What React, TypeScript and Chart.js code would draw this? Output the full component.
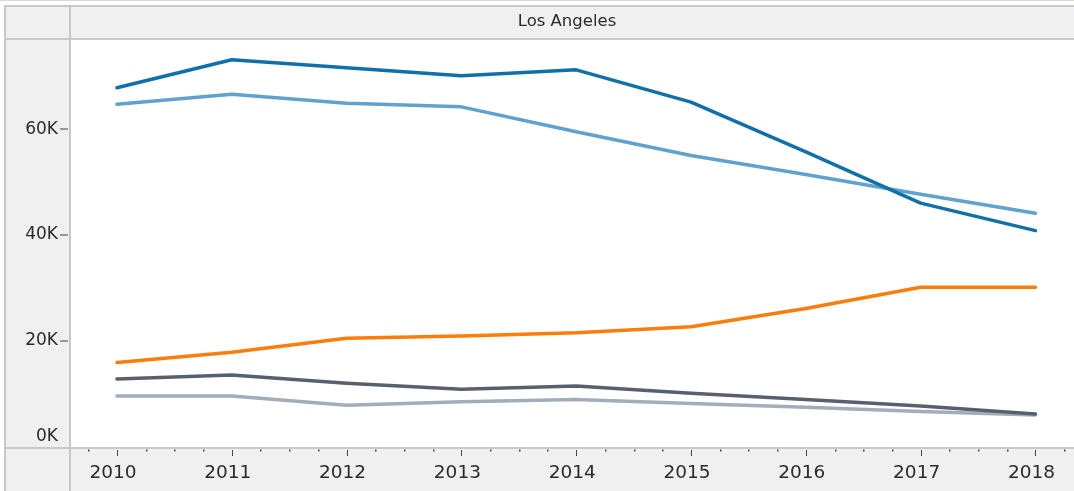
import React, { useEffect, useRef } from 'react';
import { Chart, registerables } from 'chart.js';

Chart.register(...registerables);

const panelTitle = 'Los Angeles';
const years = [2010, 2011, 2012, 2013, 2014, 2015, 2016, 2017, 2018];
const yTickValues = [0, 20000, 40000, 60000];

const seriesDarkBlue = [67800, 73100, 71600, 70100, 71200, 65100, 55700, 46000, 40800];
const seriesLightBlue = [64700, 66600, 64900, 64200, 59500, 55000, 51400, 47700, 44100];
const seriesOrange = [15900, 17800, 20450, 20900, 21500, 22650, 26100, 30100, 30100];
const seriesDarkGray = [12750, 13500, 11950, 10800, 11450, 10050, 8900, 7650, 6150];
const seriesLightGray = [9550, 9550, 7800, 8450, 8900, 8150, 7400, 6600, 5950];

const FONT = '"DejaVu Sans", Verdana, sans-serif';

const toPoints = (vals: number[]) => years.map((y, i) => ({ x: y, y: vals[i] }));

const framePlugin = {
  id: 'tableauFrame',
  beforeDraw(chart: any) {
    const { ctx, width, height, chartArea: ca } = chart;
    ctx.save();
    ctx.fillStyle = '#ffffff';
    ctx.fillRect(0, 0, width, height);
    ctx.fillStyle = '#dcd8d0';
    ctx.fillRect(0, 0, width, 1);
    const band = '#f0f0f0';
    const line = '#c8c8c8';
    ctx.fillStyle = band;
    ctx.fillRect(5, 6, width - 5, ca.top - 6);
    ctx.fillRect(5, ca.top, ca.left - 5, height - ca.top);
    ctx.fillRect(5, ca.bottom, width - 5, height - ca.bottom);
    ctx.fillStyle = line;
    ctx.fillRect(4, 5, width - 4, 2);
    ctx.fillRect(4, ca.top - 2, width - 4, 2);
    ctx.fillRect(4, 5, 2, height - 5);
    ctx.fillRect(ca.left - 2, 5, 2, height - 5);
    ctx.fillRect(4, ca.bottom, width - 4, 2);
    ctx.restore();
  },
  afterDraw(chart: any) {
    const { ctx, chartArea: ca } = chart;
    const xs = chart.scales.x;
    const ys = chart.scales.y;
    ctx.save();
    // panel header
    ctx.fillStyle = '#2a2a2a';
    ctx.font = `16.5px ${FONT}`;
    ctx.textAlign = 'center';
    ctx.textBaseline = 'middle';
    ctx.fillText(panelTitle, 567, 22);
    // y axis labels + ticks
    ctx.font = `17px ${FONT}`;
    ctx.textAlign = 'right';
    yTickValues.forEach((v) => {
      let y = ys.getPixelForValue(v);
      let clamped = false;
      if (y + 9 > ca.bottom) {
        y = ca.bottom - 10.5;
        clamped = true;
      }
      ctx.fillStyle = '#2a2a2a';
      ctx.fillText(`${v / 1000}K`, 58, y);
      if (!clamped) {
        ctx.fillStyle = '#444444';
        ctx.fillRect(60, Math.round(y) - 0.5, 8, 1);
      }
    });
    // x axis tick marks
    ctx.fillStyle = '#444444';
    const first = Math.ceil(xs.min * 4) / 4;
    for (let q = first; q <= xs.max + 1e-9; q += 0.25) {
      const x = Math.round(xs.getPixelForValue(q));
      if (Math.abs(q - Math.round(q)) < 1e-6) {
        ctx.fillRect(x, ca.bottom + 3, 1, 6);
      } else {
        ctx.fillRect(x, ca.bottom + 2.5, 1.5, 2);
      }
    }
    ctx.restore();
  },
};

export default function App() {
  const canvasRef = useRef<HTMLCanvasElement | null>(null);

  useEffect(() => {
    document.body.style.margin = '0';
    const canvas = canvasRef.current;
    if (!canvas) return;
    const mk = (label: string, vals: number[], color: string, order: number) => ({
      label,
      data: toPoints(vals),
      borderColor: color,
      backgroundColor: color,
      borderWidth: 3.5,
      pointRadius: 0,
      pointHoverRadius: 0,
      tension: 0,
      borderCapStyle: 'round' as const,
      borderJoinStyle: 'round' as const,
      fill: false,
      order,
    });
    const chart = new Chart(canvas, {
      type: 'line',
      data: {
        datasets: [
          mk('Series A', seriesDarkBlue, '#1170aa', 0),
          mk('Series B', seriesLightBlue, '#5fa2ce', 1),
          mk('Series C', seriesOrange, '#fc7d0b', 2),
          mk('Series D', seriesDarkGray, '#57606c', 3),
          mk('Series E', seriesLightGray, '#a3acb9', 4),
        ],
      },
      options: {
        responsive: false,
        animation: false,
        layout: { padding: { top: 40, left: 0, right: 0, bottom: 0 } },
        plugins: {
          legend: { display: false },
          title: { display: false },
          tooltip: { enabled: false },
        },
        scales: {
          x: {
            type: 'linear',
            min: 2009.6,
            max: 2018.3217,
            grid: { display: false, drawTicks: false },
            border: { display: false },
            afterBuildTicks: (s: any) => {
              s.ticks = years.map((v) => ({ value: v }));
            },
            afterFit: (s: any) => {
              s.height = 44;
            },
            ticks: {
              callback: (v: any) => String(v),
              font: { family: FONT, size: 18.5 },
              color: '#2a2a2a',
              padding: 15,
              labelOffset: -4,
              maxRotation: 0,
              autoSkip: false,
            },
          },
          y: {
            type: 'linear',
            min: -95,
            max: 76840,
            grid: { display: false, drawTicks: false },
            border: { display: false },
            ticks: { display: false },
            afterBuildTicks: (s: any) => {
              s.ticks = yTickValues.map((v) => ({ value: v }));
            },
            afterFit: (s: any) => {
              s.width = 71;
            },
          },
        },
      },
      plugins: [framePlugin],
    });
    return () => chart.destroy();
  }, []);

  return (
    <div style={{ width: 1074, height: 491 }}>
      <canvas ref={canvasRef} width={1074} height={491} style={{ display: 'block' }} />
    </div>
  );
}
